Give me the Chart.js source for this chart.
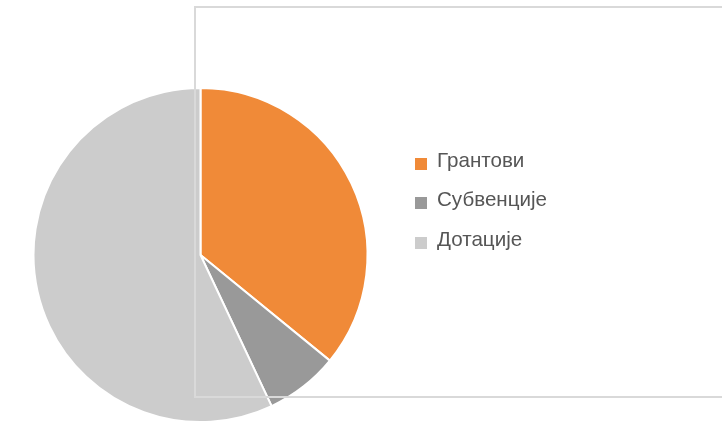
<!DOCTYPE html>
<html>
<head>
<meta charset="utf-8">
<script src="https://cdn.jsdelivr.net/npm/chart.js@4/dist/chart.umd.min.js"></script>
<style>
  html, body { margin: 0; padding: 0; background: #fff; }
  #wrap { position: relative; width: 722px; height: 423px; overflow: hidden; }
  #c { position: absolute; left: 0; top: 0; }
  #frame { position: absolute; left: 194px; top: 6px; width: 640px; height: 388px;
           border: 2px solid #d9d9d9; pointer-events: none; }
  .item { position: absolute; left: 415px; height: 20px; font-family: "Liberation Sans", Arial, sans-serif;
          font-size: 20.6px; line-height: 20px; color: #565656; white-space: nowrap; }
  .sw { position: absolute; left: 0; top: 8px; width: 12px; height: 12px; }
  .tx { position: absolute; left: 22px; top: 0; }
</style>
</head>
<body>
<div id="wrap">
  <canvas id="c" width="722" height="423"></canvas>
  <div id="frame"></div>
</div>
<script>
const categories = ["Грантови", "Субвенције", "Дотације"];
const values = [35.9, 7.1, 57.0];
const colors = ["#F08A38", "#999999", "#CCCCCC"];

new Chart(document.getElementById("c"), {
  type: "pie",
  data: {
    labels: categories,
    datasets: [{ data: values, backgroundColor: colors, borderColor: "#ffffff", borderWidth: 2 }]
  },
  options: {
    responsive: false,
    animation: false,
    layout: { padding: { left: 32, top: 87, right: 353, bottom: 0 } },
    plugins: { legend: { display: false }, tooltip: { enabled: false } }
  }
});

const wrap = document.getElementById("wrap");
categories.forEach((name, i) => {
  const it = document.createElement("div");
  it.className = "item";
  it.style.top = (149.5 + i * 39.7) + "px";
  const sw = document.createElement("div");
  sw.className = "sw";
  sw.style.background = colors[i];
  const tx = document.createElement("span");
  tx.className = "tx";
  tx.textContent = name;
  it.appendChild(sw);
  it.appendChild(tx);
  wrap.appendChild(it);
});
</script>
</body>
</html>
